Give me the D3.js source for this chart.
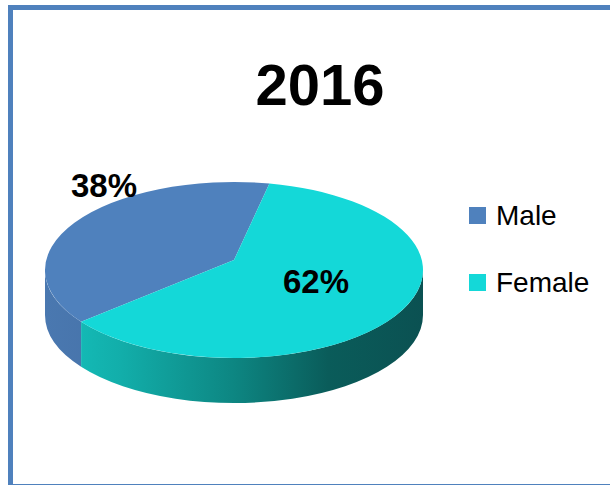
<!DOCTYPE html>
<html lang="en">
<head>
  <meta charset="UTF-8">
  <title>2016</title>
  <style>
    body {
      margin: 0;
      padding: 0;
      background-color: #ffffff;
      font-family: "Liberation Sans", Arial, sans-serif;
    }
  </style>
  <script src="https://d3js.org/d3.v7.min.js"></script>
</head>
<body>
  <div id="chart"></div>

  <script>
    // Chart data
    const title = "2016";
    const categories = ["Male", "Female"];
    const shares = [38, 62];
    const colors = ["#4F81BD", "#14D8D8"];

    const width = 610;
    const height = 485;

    // 3D pie geometry (top ellipse + side depth)
    const cx = 234, cy = 270;
    const rx = 189, ry = 88;
    const depth = 45;
    const apexLift = 10;
    const startDeg = -126;

    const svg = d3.select("#chart")
      .append("svg")
      .attr("width", width)
      .attr("height", height);

    // Frame
    svg.append("rect")
      .attr("x", 10.5)
      .attr("y", 7.5)
      .attr("width", 640)
      .attr("height", 479)
      .attr("fill", "#fff")
      .attr("stroke", "#4F81BD")
      .attr("stroke-width", 5);

    const defs = svg.append("defs");

    // side gradients
    const sideStops = [
      [["0", "#4a78b0"], ["0.5", "#3f6a9e"], ["1", "#365b88"]],
      [["0", "#15c2be"], ["0.2", "#12aeaa"], ["0.5", "#0d8682"], ["0.75", "#0a5c5a"], ["1", "#0b5152"]]
    ];
    sideStops.forEach((stops, i) => {
      const g = defs.append("linearGradient")
        .attr("id", `side-${i}`)
        .attr("gradientUnits", "userSpaceOnUse")
        .attr("x1", cx - rx).attr("x2", cx + rx)
        .attr("y1", 0).attr("y2", 0);
      stops.forEach(s => g.append("stop").attr("offset", s[0]).attr("stop-color", s[1]));
    });

    const pie = d3.pie()
      .sort(null)
      .value(d => d)
      .startAngle(startDeg * Math.PI / 180)
      .endAngle(startDeg * Math.PI / 180 + 2 * Math.PI);

    const arcs = pie(shares);

    // point on the ellipse for a d3-style angle (0 = 12 o'clock, clockwise)
    function ell(a, dy = 0) {
      return [cx + rx * Math.sin(a), cy - ry * Math.cos(a) + dy];
    }

    function sidePath(a0, a1) {
      // visible front part: angles between pi/2 and 3pi/2 (mod 2pi)
      const parts = [];
      [0, -2 * Math.PI, 2 * Math.PI].forEach(off => {
        const lo = Math.max(a0, Math.PI / 2 + off);
        const hi = Math.min(a1, 3 * Math.PI / 2 + off);
        if (hi > lo) parts.push([lo, hi]);
      });
      return parts.map(([lo, hi]) => {
        const p0 = ell(lo), p1 = ell(hi);
        const q1 = ell(hi, depth), q0 = ell(lo, depth);
        return `M${p0}A${rx},${ry} 0 0 1 ${p1}L${q1}A${rx},${ry} 0 0 0 ${q0}Z`;
      }).join("");
    }

    function topPath(a0, a1) {
      const p0 = ell(a0), p1 = ell(a1);
      const large = (a1 - a0) > Math.PI ? 1 : 0;
      return `M${cx},${cy - apexLift}L${p0}A${rx},${ry} 0 ${large} 1 ${p1}Z`;
    }

    // side walls
    svg.append("g")
      .selectAll("path")
      .data(arcs)
      .join("path")
      .attr("d", d => sidePath(d.startAngle, d.endAngle))
      .attr("fill", (d, i) => `url(#side-${i})`);

    // top faces
    svg.append("g")
      .selectAll("path")
      .data(arcs)
      .join("path")
      .attr("d", d => topPath(d.startAngle, d.endAngle))
      .attr("fill", (d, i) => colors[i]);

    // Data labels
    const labelPos = [[104, 197], [316, 293]];
    svg.append("g")
      .selectAll("text")
      .data(arcs)
      .join("text")
      .attr("x", (d, i) => labelPos[i][0])
      .attr("y", (d, i) => labelPos[i][1])
      .attr("text-anchor", "middle")
      .attr("font-size", "33px")
      .attr("font-weight", "bold")
      .attr("fill", "#000")
      .text(d => `${d.data}%`);

    // Title
    svg.append("text")
      .attr("x", 320)
      .attr("y", 105)
      .attr("text-anchor", "middle")
      .attr("font-size", "58px")
      .attr("font-weight", "bold")
      .attr("fill", "#000")
      .text(title);

    // Legend
    const legend = svg.append("g")
      .selectAll("g")
      .data(categories)
      .join("g")
      .attr("transform", (d, i) => `translate(469,${207 + i * 67})`);

    legend.append("rect")
      .attr("width", 17)
      .attr("height", 17)
      .attr("fill", (d, i) => colors[i]);

    legend.append("text")
      .attr("x", 27)
      .attr("y", 18)
      .attr("font-size", "28px")
      .attr("fill", "#000")
      .text(d => d);
  </script>
</body>
</html>
